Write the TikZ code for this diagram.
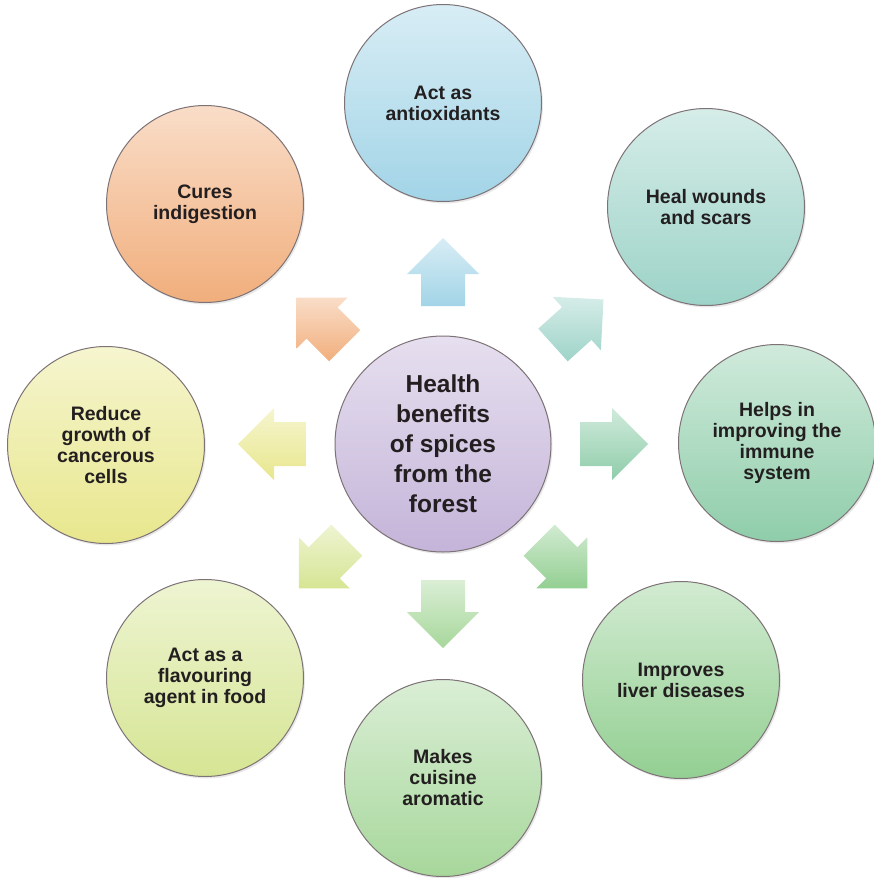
\documentclass[tikz,border=0pt]{standalone}
\usepackage{fontspec}
\setmainfont{Liberation Sans}
\usetikzlibrary{calc,shadows}

\definecolor{ink}{HTML}{231F20}
\definecolor{rim}{HTML}{7D7276}
\definecolor{cHub}{HTML}{C4B4D9}
\definecolor{cAntiox}{HTML}{A2D4E7}
\definecolor{cWounds}{HTML}{9DD3C8}
\definecolor{cImmune}{HTML}{8FCDAA}
\definecolor{cLiver}{HTML}{93CF92}
\definecolor{cCuisine}{HTML}{A7D79B}
\definecolor{cFlavour}{HTML}{D6E594}
\definecolor{cCancer}{HTML}{E8E78D}
\definecolor{cDigest}{HTML}{F1AE7C}

\begin{document}
\begin{tikzpicture}[x=1pt, y=-1pt,
    tint/.style={top color=#1!42!white, bottom color=#1},
    benefit/.style={circle, draw=rim, line width=1pt, minimum size=197pt, inner sep=0pt,
        align=center, text=ink, font=\fontsize{19.5}{21}\selectfont\bfseries,
        drop shadow={opacity=0.18, shadow xshift=1.5pt, shadow yshift=-2pt}},
    hubnode/.style={benefit, minimum size=216pt, font=\fontsize{24.5}{30}\selectfont\bfseries}
]
\useasboundingbox (0,0) rectangle (874,878);

% Centre
\node[hubnode, tint=cHub] (hub) at (443,444) {Health\\benefits\\of spices\\from the\\forest};

% Block arrows pointing outwards (angle measured clockwise from east)
\foreach \a/\d/\col in {-90/172/cAntiox, -42/182/cWounds, 0/171/cImmune, 45/170/cLiver,
                        90/170/cCuisine, 135/170/cFlavour, 180/171/cCancer, 225/173/cDigest} {
  \pgfmathsetmacro{\ub}{\d-34}
  \pgfmathsetmacro{\uh}{\d-2}
  \pgfmathsetmacro{\ut}{\d+34}
  \pgfmathsetmacro{\al}{\a+90}
  \pgfmathsetmacro{\ar}{\a-90}
  \shade[tint=\col]
    ($(hub)+(\a:\ub)+(\al:22)$) -- ($(hub)+(\a:\uh)+(\al:22)$)
    -- ($(hub)+(\a:\uh)+(\al:36)$) -- ($(hub)+(\a:\ut)$)
    -- ($(hub)+(\a:\uh)+(\ar:36)$) -- ($(hub)+(\a:\uh)+(\ar:22)$)
    -- ($(hub)+(\a:\ub)+(\ar:22)$) -- cycle;
}

% Outer circles
\node[benefit, tint=cAntiox]  (antiox)  at (443,103) {Act as\\antioxidants};
\node[benefit, tint=cWounds]  (wounds)  at (706,207) {Heal wounds\\and scars};
\node[benefit, tint=cImmune]  (immune)  at (777,443) {Helps in\\improving the\\immune\\system};
\node[benefit, tint=cLiver]   (liver)   at (681,680) {Improves\\liver diseases};
\node[benefit, tint=cCuisine] (cuisine) at (443,778) {Makes\\cuisine\\aromatic};
\node[benefit, tint=cFlavour] (flavour) at (205,678) {Act as a\\flavouring\\agent in food};
\node[benefit, tint=cCancer]  (cancer)  at (106,445) {Reduce\\growth of\\cancerous\\cells};
\node[benefit, tint=cDigest]  (digest)  at (205,204) {Cures\\indigestion};
\end{tikzpicture}
\end{document}
